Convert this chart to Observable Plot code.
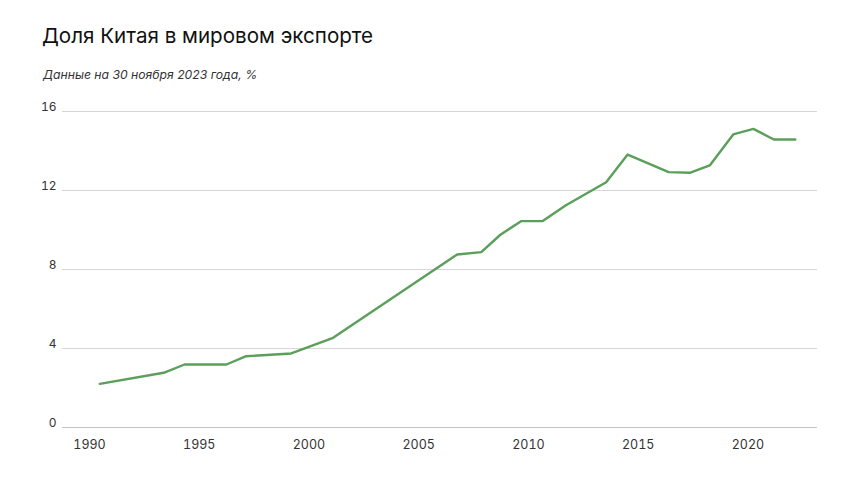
<!DOCTYPE html>
<html>
<head>
<meta charset="utf-8">
<script src="https://cdn.jsdelivr.net/npm/d3@7"></script>
<script src="https://cdn.jsdelivr.net/npm/@observablehq/plot@0.6"></script>
<style>
  html, body { margin: 0; padding: 0; background: #fff; }
  #wrap { position: relative; width: 860px; height: 484px; overflow: hidden; font-family: Inter, "Noto Sans", sans-serif; }
  #title { position: absolute; left: 42px; top: 23px; font-size: 20.6px; font-weight: 400; color: #111; white-space: nowrap; }
  #subtitle { position: absolute; left: 43px; top: 67px; font-size: 12.2px; font-style: italic; color: #333; white-space: nowrap; }
  #chart { position: absolute; left: 0; top: 95px; }
</style>
</head>
<body>
<div id="wrap">
  <div id="title">Доля Китая в мировом экспорте</div>
  <div id="subtitle">Данные на 30 ноября 2023 года, %</div>
  <div id="chart"></div>
</div>
<script>
const years = [1990.47, 1993.38, 1994.33, 1996.24, 1997.14, 1999.19, 2001.10, 2006.75, 2007.85, 2008.72, 2009.68, 2010.65, 2011.69, 2013.54, 2014.52, 2016.39, 2017.38, 2018.26, 2019.33, 2020.25, 2021.18, 2022.16];
const share = [2.21, 2.77, 3.19, 3.19, 3.61, 3.75, 4.54, 8.76, 8.88, 9.76, 10.45, 10.45, 11.24, 12.42, 13.82, 12.93, 12.90, 13.27, 14.84, 15.12, 14.58, 14.58];
const xTicks = [1990, 1995, 2000, 2005, 2010, 2015, 2020];
const yTicks = [0, 4, 8, 12, 16];

const data = years.map((y, i) => ({year: y, value: share[i]}));

const chart = Plot.plot({
  width: 860,
  height: 389,
  marginLeft: 62,
  marginRight: 43,
  marginTop: 16,
  marginBottom: 57,
  style: {fontFamily: "Inter, 'Noto Sans', sans-serif", fontSize: "12px", color: "#333", background: "#fff"},
  x: {domain: [1988.77, 2023.17]},
  y: {domain: [0, 16]},
  marks: [
    Plot.gridY(yTicks, {stroke: "#d6d6d6", strokeOpacity: 1, strokeWidth: 1}),
    Plot.ruleY([0], {stroke: "#c4c4c4", strokeWidth: 1}),
    Plot.axisY(yTicks, {tickSize: 0, tickPadding: 6, dy: -4, fill: "#333", fontSize: 12, label: null}),
    Plot.axisX(xTicks, {tickSize: 0, tickPadding: 13, tickFormat: d => String(d), fill: "#333", fontSize: 12.5, label: null}),
    Plot.line(data, {x: "year", y: "value", stroke: "#5a9f5a", strokeWidth: 2.4, strokeLinejoin: "round", strokeLinecap: "round"})
  ]
});
document.getElementById("chart").appendChild(chart);
</script>
</body>
</html>
